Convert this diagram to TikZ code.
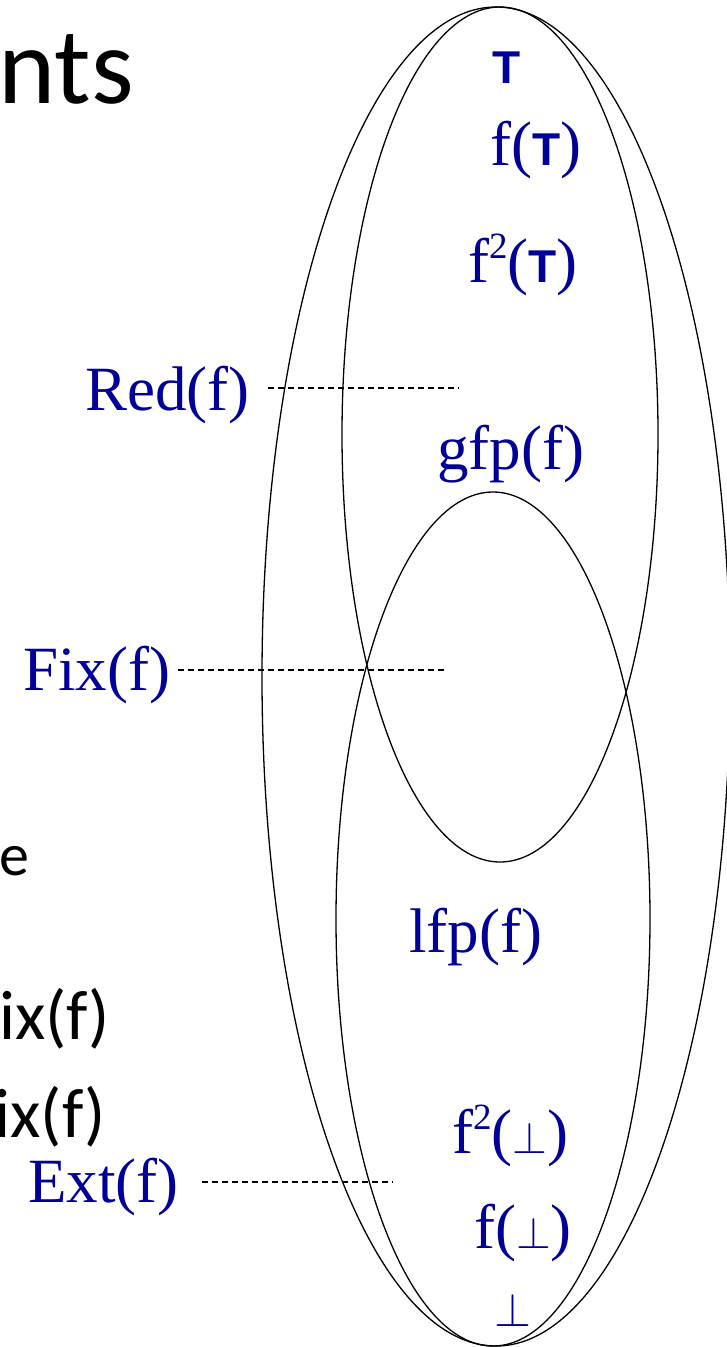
\documentclass[tikz,border=0pt]{standalone}
\usepackage{fontspec}
\usepackage{graphicx}
\setmainfont{Liberation Serif}
\newfontfamily\arialf{Liberation Sans}
\newfontfamily\calib{Carlito}
\definecolor{lblue}{RGB}{0,0,153}
\newcommand\TopT{{\fontsize{46}{46}\selectfont\arialf\bfseries T}}
\newcommand\BotS{\resizebox{!}{31pt}{$\perp$}}
\newcommand\BotL{\resizebox{!}{33pt}{$\perp$}}
\newcommand\sqr{\raisebox{24pt}{\fontsize{37}{37}\selectfont 2}}
\begin{document}
\begin{tikzpicture}[x=1pt,y=-1pt,
  lbl/.style={text=lblue, inner sep=0pt, anchor=base west, font=\fontsize{63}{63}\selectfont},
  blk/.style={text=black, inner sep=0pt, anchor=base east},
  ell/.style={draw=black, line width=1.3pt},
  dashline/.style={draw=black, line width=1.3pt, dash pattern=on 6pt off 4pt}]
\useasboundingbox (0,0) rectangle (727,1347);
% ellipses
\draw[ell] (496,676.5) ellipse [x radius=234, y radius=669.5];
\draw[ell] (500,434.5) ellipse [x radius=158, y radius=427.5];
\draw[ell] (493,919) ellipse [x radius=157, y radius=427];
% left slide text (cut off)
\node[blk, font=\calib\fontsize{109}{109}\selectfont] (nts) at (134,103) {nts};
\node[blk, font=\calib\fontsize{60}{60}\selectfont] (e) at (29.5,875) {e};
\node[blk, font=\calib\fontsize{70}{70}\selectfont] (ixa) at (110.5,1039) {ix(f)};
\node[blk, font=\calib\fontsize{70}{70}\selectfont] (ixb) at (106,1137) {ix(f)};
% blue labels
\node[lbl] (top) at (492,83) {\TopT};
\node[lbl] (ft) at (490,165) {f(\TopT)};
\node[lbl] (fft) at (468,282) {f\sqr(\TopT)};
\node[lbl] (gfp) at (437,469) {gfp(f)};
\node[lbl] (lfp) at (409,952) {lfp(f)};
\node[lbl] (ffb) at (452,1153) {f\sqr(\BotS)};
\node[lbl] (fb) at (474,1248) {f(\BotS)};
\node[lbl] (bot) at (494,1326) {\BotL};
\node[lbl] (red) at (85,410) {Red(f)};
\node[lbl] (fix) at (23,690) {Fix(f)};
\node[lbl] (ext) at (28,1202) {Ext(f)};
% dashed leaders
\coordinate (redA) at (268,388);
\coordinate (redB) at (459,388);
\coordinate (fixA) at (178,670);
\coordinate (fixB) at (445,670);
\coordinate (extA) at (202,1182);
\coordinate (extB) at (393,1182);
\draw[dashline] (redA) -- (redB);
\draw[dashline] (fixA) -- (fixB);
\draw[dashline] (extA) -- (extB);
\end{tikzpicture}
\end{document}
